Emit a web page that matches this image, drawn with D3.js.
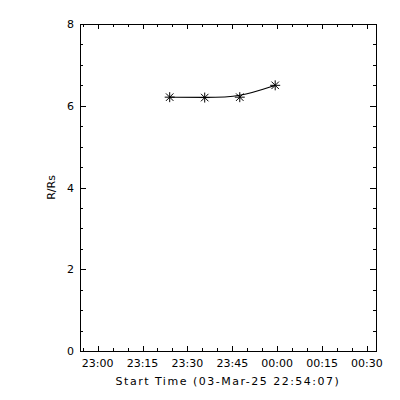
<!DOCTYPE html>
<html>
<head>
<meta charset="utf-8">
<style>
  body { margin: 0; background: #fff }
  text { font-family: "DejaVu Sans", sans-serif; font-size: 11px; fill: #000 }
  .title { letter-spacing: 1.5px }
</style>
<script src="https://d3js.org/d3.v7.min.js"></script>
</head>
<body>
<svg id="chart"></svg>
<script>
// height-time points (R/Rs)
let times = ['2025-03-03T23:24:05', '2025-03-03T23:35:47', '2025-03-03T23:47:30', '2025-03-03T23:59:20']
let heights = [6.21, 6.20, 6.21, 6.50]
let xDomain = ['2025-03-03T22:54:07', '2025-03-04T00:33:01']
let yTicks = [0, 2, 4, 6, 8]
let xTickLabels = ['23:00', '23:15', '23:30', '23:45', '00:00', '00:15', '00:30']
let xTitle = 'Start Time (03-Mar-25 22:54:07)'
let yTitle = 'R/Rs'

let width = 400, height = 400
let mLeft = 80, mRight = 376, mTop = 24, mBottom = 351

let parse = d3.isoParse
let x = d3.scaleTime().domain(xDomain.map(parse)).range([mLeft, mRight])
let y = d3.scaleLinear().domain([0, 8]).range([mBottom, mTop])

let svg = d3.select('#chart').attr('width', width).attr('height', height)

// frame
svg.append('rect')
  .attr('x', mLeft + 0.5).attr('y', mTop + 0.5)
  .attr('width', mRight - mLeft).attr('height', mBottom - mTop)
  .attr('fill', 'none').attr('stroke', '#000').attr('stroke-width', 1)

let t0 = parse('2025-03-03T23:00:00')
let t1 = parse('2025-03-04T00:30:00')
let majorX = d3.timeMinute.every(15).range(t0, d3.timeMinute.offset(t1, 1))
let minorX = d3.timeMinute.every(5).range(x.domain()[0], x.domain()[1])
let minorY = d3.range(0, 8.01, 0.5)

let g = svg.append('g').attr('stroke', '#000').attr('stroke-width', 1).attr('shape-rendering', 'crispEdges')

// x ticks bottom + top
minorX.forEach(d => {
  let px = Math.round(x(d)) + 0.5
  let major = d.getMinutes() % 15 === 0
  let len = major ? 5 : 3
  g.append('line').attr('x1', px).attr('x2', px).attr('y1', mBottom).attr('y2', mBottom - len)
  g.append('line').attr('x1', px).attr('x2', px).attr('y1', mTop).attr('y2', mTop + len)
})

// y ticks left + right
minorY.forEach(v => {
  let py = Math.round(y(v)) + 0.5
  let len = v % 2 === 0 ? 6 : 3
  g.append('line').attr('x1', mLeft).attr('x2', mLeft + len).attr('y1', py).attr('y2', py)
  g.append('line').attr('x1', mRight).attr('x2', mRight - len).attr('y1', py).attr('y2', py)
})

// tick labels
svg.selectAll('.xl').data(majorX).enter().append('text')
  .attr('x', d => x(d)).attr('y', 367)
  .attr('text-anchor', 'middle')
  .text((d, i) => xTickLabels[i])

svg.selectAll('.yl').data(yTicks).enter().append('text')
  .attr('x', 74).attr('y', d => y(d) + 4)
  .attr('text-anchor', 'end')
  .text(d => d)

svg.append('text').attr('class', 'title').attr('x', (mLeft + mRight) / 2).attr('y', 385)
  .attr('text-anchor', 'middle').text(xTitle)

svg.append('text')
  .attr('transform', 'translate(55,' + (mTop + mBottom) / 2 + ') rotate(-90)')
  .attr('text-anchor', 'middle').text(yTitle)

// fit curve
let pts = times.map((t, i) => [x(parse(t)), y(heights[i])])
svg.append('path')
  .attr('d', d3.line().curve(d3.curveBasis)(pts))
  .attr('fill', 'none').attr('stroke', '#000').attr('stroke-width', 1.2)

// asterisk markers
let r = 5
let star = svg.selectAll('.star').data(pts).enter().append('g')
  .attr('transform', d => 'translate(' + d[0] + ',' + d[1] + ')')
  .attr('stroke', '#000').attr('stroke-width', 1)
star.append('line').attr('x1', -r).attr('x2', r).attr('y1', 0).attr('y2', 0)
star.append('line').attr('x1', 0).attr('x2', 0).attr('y1', -r).attr('y2', r)
star.append('line').attr('x1', -r * 0.75).attr('x2', r * 0.75).attr('y1', -r * 0.75).attr('y2', r * 0.75)
star.append('line').attr('x1', -r * 0.75).attr('x2', r * 0.75).attr('y1', r * 0.75).attr('y2', -r * 0.75)
</script>
</body>
</html>
